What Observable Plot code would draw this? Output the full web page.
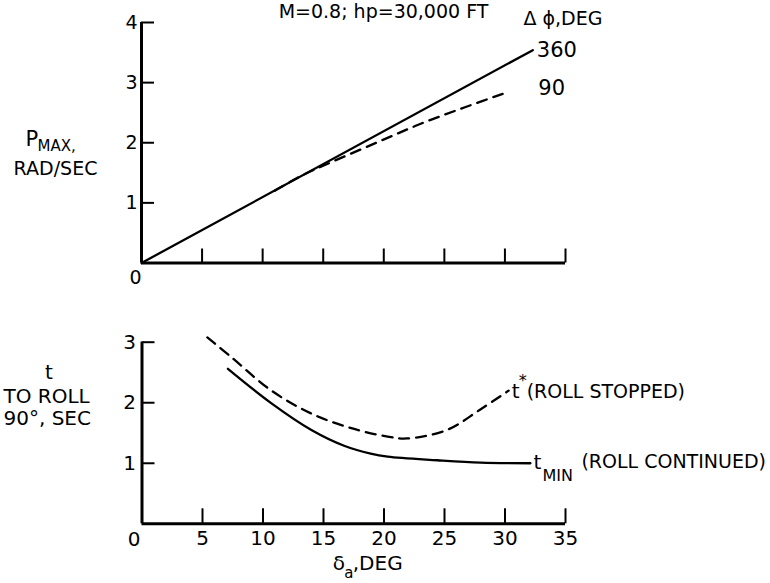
<!DOCTYPE html>
<html><head><meta charset="utf-8">
<script src="https://cdn.jsdelivr.net/npm/d3@7"></script>
<script src="https://cdn.jsdelivr.net/npm/@observablehq/plot@0.6"></script>
<style>body{margin:0;background:#fff} svg{display:block}</style>
</head><body><div id="chart"></div>
<script>
// ---- data ----
const title = "M=0.8; hp=30,000 FT";
const xTicks = [5, 10, 15, 20, 25, 30, 35];
const xTickLabels = ["5", "10", "15", "20", "25", "30", "35"];
const pTicks = [1, 2, 3, 4];
const pTickLabels = ["1", "2", "3", "4"];
const tTicks = [1, 2, 3];
const tTickLabels = ["1", "2", "3"];

// top panel: p_max (rad/sec) vs delta_a (deg)
const dA360 = [0, 32.3];
const p360 = [0, 3.54];
const dA90 = [11, 13.2, 15.7, 19.5, 23.1, 26.7, 30.2];
const p90 = [1.2, 1.45, 1.68, 2.01, 2.32, 2.59, 2.84];

// bottom panel: time to roll 90 deg (sec) vs delta_a (deg)
const dAStop = [5.4, 7.4, 10.7, 14.0, 17.3, 20.3, 21.9, 25.2, 27.9, 30.3];
const tStop = [3.08, 2.75, 2.2, 1.82, 1.58, 1.44, 1.41, 1.55, 1.88, 2.2];
const dACont = [7.1, 10.7, 14.0, 16.7, 18.9, 20.3, 24.4, 28.0, 32.1];
const tCont = [2.56, 1.99, 1.55, 1.29, 1.16, 1.11, 1.05, 1.01, 1.0];

// ---- build tables ----
const zip = (xs, ys) => xs.map((x, i) => ({x, y: ys[i]}));
const s360 = zip(dA360, p360), s90 = zip(dA90, p90);
const sStop = zip(dAStop, tStop), sCont = zip(dACont, tCont);
const last = a => [a[a.length - 1]];

const font = "'DejaVu Sans', sans-serif";
const style = {fontFamily: font, fontSize: "19px", color: "black", background: "white", overflow: "visible"};
const LW = 2.3, AW = 3, TW = 2;

const topChart = Plot.plot({
  width: 770, height: 290,
  marginLeft: 141, marginRight: 205, marginTop: 22, marginBottom: 27.5,
  style,
  x: {domain: [0, 35]},
  y: {domain: [0, 4]},
  marks: [
    Plot.axisY(pTicks, {tickSize: -13, tickPadding: 17, strokeWidth: TW, label: null, fontSize: 19, tickFormat: (d, i) => pTickLabels[i]}),
    Plot.axisX(xTicks, {tickSize: -14, tickFormat: () => "", strokeWidth: TW, label: null}),
    Plot.ruleX([0], {strokeWidth: AW}),
    Plot.ruleY([0], {strokeWidth: AW}),
    Plot.line(s360, {x: "x", y: "y", strokeWidth: LW}),
    Plot.line(s90, {x: "x", y: "y", strokeWidth: LW, strokeDasharray: "10,7", curve: "catmull-rom"}),
    Plot.text(last(s360), {x: "x", y: "y", text: () => "360", dx: 4, textAnchor: "start", fontSize: 21}),
    Plot.text(last(s90), {x: "x", y: "y", text: () => "90", dx: 31, dy: -4, textAnchor: "start", fontSize: 21}),
    Plot.text(["Δ ϕ,DEG"], {frameAnchor: "top-right", text: d => d, dx: -42, dy: -4, textAnchor: "start", lineAnchor: "middle", fontSize: 19}),
    Plot.text([title], {frameAnchor: "top", text: d => d, dx: 30, dy: -11, lineAnchor: "middle", fontSize: 19}),
    Plot.text(["0"], {x: 0, y: 0, text: d => d, dx: -6, dy: 15, lineAnchor: "middle", fontSize: 19}),
    Plot.text(["P"], {frameAnchor: "left", text: d => d, dx: -116, dy: -3, textAnchor: "start", lineAnchor: "middle", fontSize: 21}),
    Plot.text(["MAX,"], {frameAnchor: "left", text: d => d, dx: -104, dy: 3, textAnchor: "start", lineAnchor: "middle", fontSize: 15}),
    Plot.text(["RAD/SEC"], {frameAnchor: "left", text: d => d, dx: -86, dy: 26, textAnchor: "middle", lineAnchor: "middle", fontSize: 19})
  ]
});

const bottomChart = Plot.plot({
  width: 770, height: 293,
  marginLeft: 141.5, marginRight: 205, marginTop: 51.7, marginBottom: 59.7,
  style,
  x: {domain: [0, 35]},
  y: {domain: [0, 3]},
  marks: [
    Plot.axisY(tTicks, {tickSize: -13, tickPadding: 19, strokeWidth: TW, label: null, fontSize: 20, tickFormat: (d, i) => tTickLabels[i]}),
    Plot.axisX(xTicks, {tickSize: -15, tickPadding: 22, tickFormat: (d, i) => xTickLabels[i], strokeWidth: TW, label: null, fontSize: 20}),
    Plot.ruleX([0], {strokeWidth: AW}),
    Plot.ruleY([0], {strokeWidth: AW}),
    Plot.line(sStop, {x: "x", y: "y", strokeWidth: LW, strokeDasharray: "10,7", curve: "catmull-rom"}),
    Plot.line(sCont, {x: "x", y: "y", strokeWidth: LW, curve: "catmull-rom"}),
    Plot.text(last(sStop), {x: "x", y: "y", text: () => "t", dx: 3, dy: 1, textAnchor: "start", lineAnchor: "middle", fontSize: 20}),
    Plot.text(last(sStop), {x: "x", y: "y", text: () => "*", dx: 10, dy: -10, textAnchor: "start", lineAnchor: "middle", fontSize: 16}),
    Plot.text(last(sStop), {x: "x", y: "y", text: () => "(ROLL STOPPED)", dx: 18, dy: 1, textAnchor: "start", lineAnchor: "middle", fontSize: 19}),
    Plot.text(last(sCont), {x: "x", y: "y", text: () => "t", dx: 3, dy: -1, textAnchor: "start", lineAnchor: "middle", fontSize: 20}),
    Plot.text(last(sCont), {x: "x", y: "y", text: () => "MIN", dx: 12, dy: 13, textAnchor: "start", lineAnchor: "middle", fontSize: 16}),
    Plot.text(last(sCont), {x: "x", y: "y", text: () => "(ROLL CONTINUED)", dx: 51, dy: -1, textAnchor: "start", lineAnchor: "middle", fontSize: 19}),
    Plot.text(["0"], {x: 0, y: 0, text: d => d, dx: -8, dy: 16, lineAnchor: "middle", fontSize: 20}),
    Plot.text(["t"], {frameAnchor: "left", text: d => d, dx: -93, dy: -60, textAnchor: "middle", lineAnchor: "middle", fontSize: 20}),
    Plot.text(["TO ROLL"], {frameAnchor: "left", text: d => d, dx: -138.5, dy: -36, textAnchor: "start", lineAnchor: "middle", fontSize: 20}),
    Plot.text(["90°, SEC"], {frameAnchor: "left", text: d => d, dx: -138.5, dy: -14, textAnchor: "start", lineAnchor: "middle", fontSize: 20}),
    Plot.text(["δ"], {frameAnchor: "bottom", text: d => d, dx: -15, dy: 40, textAnchor: "middle", lineAnchor: "middle", fontSize: 20}),
    Plot.text(["a"], {frameAnchor: "bottom", text: d => d, dx: -5, dy: 49, textAnchor: "middle", lineAnchor: "middle", fontSize: 15}),
    Plot.text([",DEG"], {frameAnchor: "bottom", text: d => d, dx: -1, dy: 40, textAnchor: "start", lineAnchor: "middle", fontSize: 20})
  ]
});

document.getElementById("chart").append(topChart, bottomChart);
</script>
</body></html>
